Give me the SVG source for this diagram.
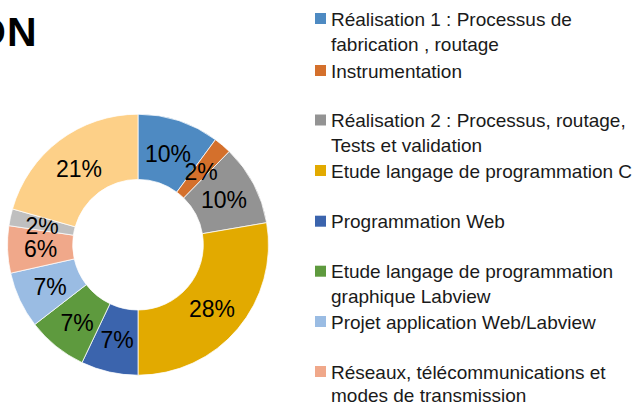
<svg xmlns="http://www.w3.org/2000/svg" width="641" height="405" viewBox="0 0 641 405">
<style>
.seg{stroke:#fff;stroke-width:0.75}
.pct{font-family:"Liberation Sans",Arial,sans-serif;font-size:23px;fill:#000;text-anchor:middle}
.lg{font-family:"Liberation Sans",Arial,sans-serif;font-size:19px;fill:#1a1a1a}
.title{font-family:"Liberation Sans",Arial,sans-serif;font-size:41px;font-weight:bold;fill:#000}
</style>
<rect width="641" height="405" fill="#fff"/>
<text class="title" x="6" y="45.7" text-anchor="end">O</text>
<text class="title" x="7" y="45.7">N</text>
<g id="donut">
<g id="s1"><path class="seg" fill="#4E8AC2" d="M138,114.2 A130.5,130.5 0 0 1 215.44,139.66 L176.75,192.14 A65.3,65.3 0 0 0 138,179.4 Z"/><text class="pct" x="168" y="161.7">10%</text></g>
<g id="s2"><path class="seg" fill="#D4702C" d="M215.44,139.66 A130.5,130.5 0 0 1 229.28,151.46 L183.68,198.04 A65.3,65.3 0 0 0 176.75,192.14 Z"/></g>
<g id="s3"><path class="seg" fill="#939393" d="M229.28,151.46 A130.5,130.5 0 0 1 266.63,222.71 L202.37,233.70 A65.3,65.3 0 0 0 183.68,198.04 Z"/><text class="pct" x="224" y="208.3">10%</text></g>
<g id="s4"><path class="seg" fill="#E2AA00" d="M266.63,222.71 A130.5,130.5 0 0 1 138,375.2 L138,310 A65.3,65.3 0 0 0 202.37,233.70 Z"/><text class="pct" x="212" y="316.7">28%</text></g>
<g id="s5"><path class="seg" fill="#3B64AD" d="M138,375.2 A130.5,130.5 0 0 1 82.03,362.58 L109.99,303.69 A65.3,65.3 0 0 0 138,310 Z"/><text class="pct" x="117" y="348.3">7%</text></g>
<g id="s6"><path class="seg" fill="#5E9A3E" d="M82.03,362.58 A130.5,130.5 0 0 1 34.75,324.50 L86.33,284.63 A65.3,65.3 0 0 0 109.99,303.69 Z"/><text class="pct" x="77" y="330.7">7%</text></g>
<g id="s7"><path class="seg" fill="#9ABCE3" d="M34.75,324.50 A130.5,130.5 0 0 1 10.65,273.16 L74.27,258.94 A65.3,65.3 0 0 0 86.33,284.63 Z"/><text class="pct" x="50" y="295">7%</text></g>
<g id="s8"><path class="seg" fill="#F0A88A" d="M10.65,273.16 A130.5,130.5 0 0 1 8.90,225.63 L73.40,235.16 A65.3,65.3 0 0 0 74.27,258.94 Z"/><text class="pct" x="40.5" y="257.3">6%</text></g>
<g id="s9"><path class="seg" fill="#BFBFBF" d="M8.90,225.63 A130.5,130.5 0 0 1 12.50,208.94 L75.20,226.81 A65.3,65.3 0 0 0 73.40,235.16 Z"/><text class="pct" x="42" y="234">2%</text></g>
<g id="s10"><path class="seg" fill="#FDD088" d="M12.50,208.94 A130.5,130.5 0 0 1 138,114.2 L138,179.4 A65.3,65.3 0 0 0 75.20,226.81 Z"/><text class="pct" x="79" y="176.7">21%</text></g>
<text class="pct" x="201" y="180">2%</text>
</g>
<g id="legend">
<g id="l1"><rect x="315" y="13" width="11" height="11" fill="#4E8AC2"/><text class="lg" x="331" y="25.7">Réalisation 1 : Processus de</text><text class="lg" x="331" y="50.7">fabrication , routage</text></g>
<g id="l2"><rect x="315" y="65" width="11" height="11" fill="#D4702C"/><text class="lg" x="331" y="77.7">Instrumentation</text></g>
<g id="l3"><rect x="315" y="114.5" width="11" height="11" fill="#939393"/><text class="lg" x="331" y="127.2">Réalisation 2 : Processus, routage,</text><text class="lg" x="331" y="152.2">Tests et validation</text></g>
<g id="l4"><rect x="315" y="165" width="11" height="11" fill="#E2AA00"/><text class="lg" x="331" y="177.7">Etude langage de programmation C</text></g>
<g id="l5"><rect x="315" y="215.7" width="11" height="11" fill="#3B64AD"/><text class="lg" x="331" y="228.4">Programmation Web</text></g>
<g id="l6"><rect x="315" y="265.7" width="11" height="11" fill="#5E9A3E"/><text class="lg" x="331" y="278.4">Etude langage de programmation</text><text class="lg" x="331" y="303.4">graphique Labview</text></g>
<g id="l7"><rect x="315" y="316" width="11" height="11" fill="#9ABCE3"/><text class="lg" x="331" y="328.7">Projet application Web/Labview</text></g>
<g id="l8"><rect x="315" y="366" width="11" height="11" fill="#F0A88A"/><text class="lg" x="331" y="378.7">Réseaux, télécommunications et</text><text class="lg" x="331" y="401.5">modes de transmission</text></g>
</g>
</svg>
